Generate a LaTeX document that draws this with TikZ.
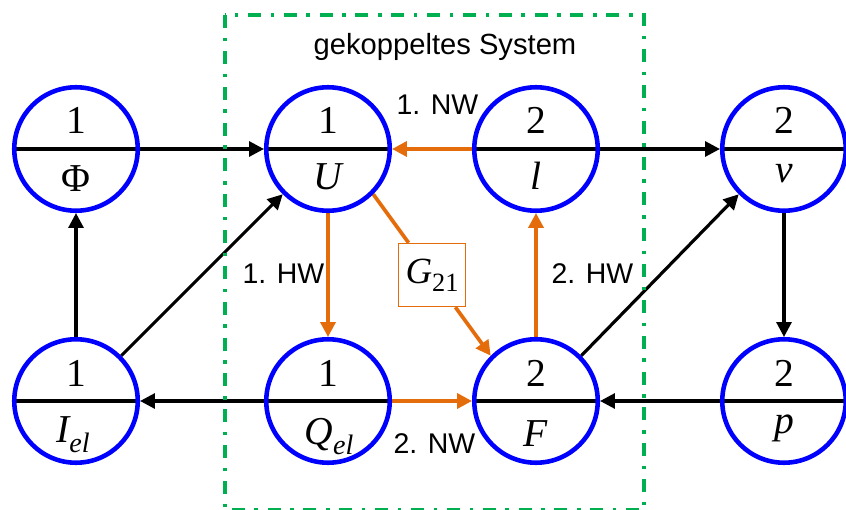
\documentclass[tikz,border=0pt]{standalone}
\usepackage{fontspec}
\setmainfont{Liberation Serif}
\newfontfamily\labelfont{Liberation Sans}
\usetikzlibrary{arrows.meta}
\definecolor{myblue}{RGB}{0,0,255}
\definecolor{myorange}{RGB}{228,108,10}
\definecolor{mygreen}{RGB}{0,176,80}
\pgfdeclarelayer{bg}\pgfsetlayers{bg,main}
\begin{document}
\begin{tikzpicture}[x=0.02cm,y=-0.02cm,
 state/.style={circle,draw=myblue,line width=2.6pt,minimum size=2.47cm,inner sep=0pt},
 numtxt/.style={anchor=base,font=\fontsize{22.5}{22.5}\selectfont,inner sep=0pt},
 vartxt/.style={anchor=base,font=\fontsize{22.5}{22.5}\selectfont\itshape,inner sep=0pt},
 lbl/.style={anchor=base,font=\labelfont\fontsize{16.2}{16.2}\selectfont,inner sep=0pt},
 blk/.style={line width=1.8pt,black},
 blkarr/.style={blk,-{Triangle[length=8.5pt,width=8.5pt]}},
 org/.style={line width=2.1pt,myorange},
 orgarr/.style={org,-{Triangle[length=8.5pt,width=8.5pt]}},
 grn/.style={line width=2.1pt,mygreen,dash pattern=on 7.4pt off 5.5pt on 2pt off 5.5pt},
 gbox/.style={draw=myorange,line width=0.8pt,fill=white,minimum width=1.34cm,minimum height=1.26cm,inner sep=0pt,font=\fontsize{21}{21}\selectfont}
]
\useasboundingbox (0,0) rectangle (846,510);
% system frame
\draw[grn] (225,15) rectangle (644,510);
\node[lbl,font=\labelfont\fontsize{16.6}{16.6}\selectfont] (title) at (445,55) {gekoppeltes System};
% state circles
\node[state] (Phi) at (76,149) {};
\node[state] (U) at (328,149) {};
\node[state] (l) at (536,149) {};
\node[state] (v) at (784,149) {};
\node[state] (I) at (76,401) {};
\node[state] (Q) at (328,401) {};
\node[state] (F) at (536,401) {};
\node[state] (p) at (784,401) {};
\coordinate (vR) at (846,149);
\coordinate (pR) at (846,401);
% texts in circles
\node[numtxt] (Phi-n) at (76,134) {1};
\node[numtxt] (U-n) at (328,134) {1};
\node[numtxt] (l-n) at (536,134) {2};
\node[numtxt] (v-n) at (784,134) {2};
\node[numtxt] (I-n) at (76,386) {1};
\node[numtxt] (Q-n) at (328,386) {1};
\node[numtxt] (F-n) at (536,386) {2};
\node[numtxt] (p-n) at (784,386) {2};
\node[vartxt] (Phi-v) at (76,192) {\upshape Φ};
\node[vartxt] (U-v) at (328,190) {U};
\node[vartxt] (l-v) at (536,190) {l};
\node[vartxt] (v-v) at (784,183) {v};
\node[vartxt] (I-v) at (73,442) {I\raisebox{-5.7pt}{\fontsize{16}{16}\selectfont el}};
\node[vartxt] (Q-v) at (329,444) {Q\raisebox{-5.7pt}{\fontsize{16}{16}\selectfont el}};
\node[vartxt] (F-v) at (536,446) {F};
\node[vartxt] (p-v) at (784,433) {p};
% coupling box
\node[gbox] (G) at (432,275) {\textit{G}\raisebox{-4.5pt}{\fontsize{15}{15}\selectfont 21}};
% labels
\node[lbl] (nw1) at (437.5,115) {1. NW};
\node[lbl] (hw1) at (283.5,283) {1. HW};
\node[lbl] (hw2) at (592.5,283) {2. HW};
\node[lbl] (nw2) at (434.5,453) {2. NW};
\begin{pgfonlayer}{bg}
% diameters
\draw[blk] (Phi.west) -- (Phi.east);
\draw[blk] (U.west) -- (U.east);
\draw[blk] (l.west) -- (l.east);
\draw[blk] (v.west) -- (vR);
\draw[blk] (I.west) -- (I.east);
\draw[blk] (Q.west) -- (Q.east);
\draw[blk] (F.west) -- (F.east);
\draw[blk] (p.west) -- (pR);
% connectors
\draw[blkarr] (Phi.east) -- (U.west);
\draw[orgarr] (l.west) -- (U.east);
\draw[blkarr] (l.east) -- (v.west);
\draw[blkarr] (Q.west) -- (I.east);
\draw[orgarr] (Q.east) -- (F.west);
\draw[blkarr] (p.west) -- (F.east);
\draw[blkarr] (I.north) -- (Phi.south);
\draw[blkarr] (I.45) -- (U.225);
\draw[orgarr] (U.south) -- (Q.north);
\draw[orgarr] (F.north) -- (l.south);
\draw[blkarr] (F.45) -- (v.225);
\draw[blkarr] (v.south) -- (p.north);
\draw[org] (U.-45) -- (G);
\draw[orgarr] (G) -- (F.135);
\end{pgfonlayer}
\end{tikzpicture}
\end{document}
